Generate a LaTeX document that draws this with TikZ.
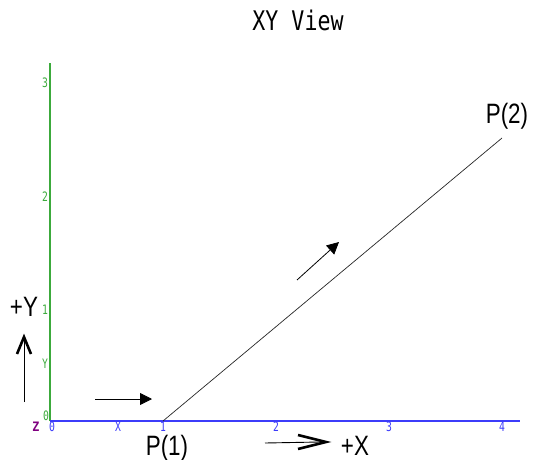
\documentclass[tikz,border=0pt]{standalone}
\usepackage{fontspec}
\setmainfont{Liberation Sans}
\newfontfamily\monof{DejaVu Sans Mono}
\usetikzlibrary{arrows.meta}
\definecolor{axgreen}{RGB}{60,170,60}
\definecolor{axblue}{RGB}{60,60,250}
\definecolor{axpurple}{RGB}{128,0,128}
\tikzset{
  bluelab/.style={text=axblue,font=\monof\fontsize{13}{13}\selectfont,inner sep=0pt,xscale=0.75},
  greenlab/.style={text=axgreen,font=\monof\fontsize{13}{13}\selectfont,inner sep=0pt,xscale=0.75},
  biglab/.style={font=\fontsize{28}{28}\selectfont,inner sep=0pt,xscale=0.8,anchor=base},
  thinarrow/.style={line width=0.8pt,-{Triangle[length=12pt,width=12pt]}},
  chevron/.style={line width=2.6pt,miter limit=10},
}
\begin{document}
\begin{tikzpicture}[x=1pt,y=-1pt]
\useasboundingbox (0,0) rectangle (538,460);
% title
\node[font=\monof\fontsize{27}{27}\selectfont,inner sep=0pt,xscale=0.8,anchor=base] (title) at (298,31) {XY View};
% axes
\coordinate (o) at (50,421);
\coordinate (ytop) at (50,63);
\coordinate (xend) at (520,421);
\draw[axgreen,line width=1.2pt] (o) -- (ytop);
\draw[axblue,line width=1.3pt] (o) -- (xend);
% y labels
\node[greenlab] (y3) at (45,83) {3};
\node[greenlab] (y2) at (45,197) {2};
\node[greenlab] (y1) at (45,310) {1};
\node[greenlab] (yY) at (45,364) {Y};
\node[greenlab] (y0) at (46,416) {0};
% x labels
\node[bluelab] (x0) at (52,427) {0};
\node[bluelab] (xX) at (118,427) {X};
\node[bluelab] (x1) at (163,427) {1};
\node[bluelab] (x2) at (276,427) {2};
\node[bluelab] (x3) at (389,427) {3};
\node[bluelab] (x4) at (502,427) {4};
\node[text=axpurple,font=\monof\bfseries\fontsize{13}{13}\selectfont,inner sep=0pt,xscale=0.9] (zl) at (36,427) {Z};
% path
\coordinate (p1) at (163,421);
\coordinate (p2) at (502,138);
\draw[line width=0.7pt,black!85] (p1) -- (p2);
\node[biglab] (lp1) at (167,455) {P(1)};
\node[biglab] (lp2) at (507,123) {P(2)};
% direction arrows
\coordinate (a1s) at (95,399);
\coordinate (a1e) at (152,399);
\draw[thinarrow] (a1s) -- (a1e);
\coordinate (a2s) at (297,280);
\coordinate (a2e) at (339,242);
\draw[thinarrow] (a2s) -- (a2e);
% +Y indicator
\coordinate (ys) at (24,402);
\coordinate (ye) at (24,340);
\draw[line width=0.9pt] (ys) -- (ye);
\draw[chevron] (17,354) -- (24,337) -- (31,354);
\node[biglab] (plusy) at (24,316) {+Y};
% +X indicator
\coordinate (xs) at (265,443);
\coordinate (xe) at (320,442);
\draw[line width=0.9pt] (xs) -- (xe);
\draw[chevron] (298,435) -- (326,442) -- (298,449);
\node[biglab] (plusx) at (355,455) {+X};
\end{tikzpicture}
\end{document}
